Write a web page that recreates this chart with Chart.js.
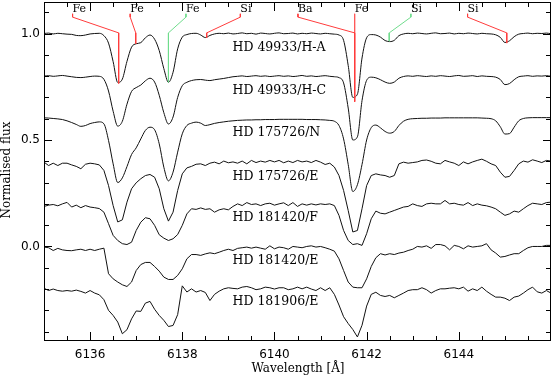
<!DOCTYPE html>
<html>
<head>
<meta charset="utf-8">
<script src="https://cdn.jsdelivr.net/npm/chart.js@4.4.1/dist/chart.umd.min.js"></script>
<style>
  body { margin: 0; background: #fff; }
  #wrap { width: 552px; height: 378px; }
</style>
</head>
<body>
<div id="wrap"><canvas id="chart" width="552" height="378"></canvas></div>
<script>
// wavelength grid (Angstrom)
var wave = [
  6135.0, 6135.1, 6135.2, 6135.3, 6135.4, 6135.5, 6135.6, 6135.7, 6135.8, 6135.9,
  6136.0, 6136.1, 6136.2, 6136.3, 6136.4, 6136.5, 6136.6, 6136.7, 6136.8, 6136.9,
  6137.0, 6137.1, 6137.2, 6137.3, 6137.4, 6137.5, 6137.6, 6137.7, 6137.8, 6137.9,
  6138.0, 6138.1, 6138.2, 6138.3, 6138.4, 6138.5, 6138.6, 6138.7, 6138.8, 6138.9,
  6139.0, 6139.1, 6139.2, 6139.3, 6139.4, 6139.5, 6139.6, 6139.7, 6139.8, 6139.9,
  6140.0, 6140.1, 6140.2, 6140.3, 6140.4, 6140.5, 6140.6, 6140.7, 6140.8, 6140.9,
  6141.0, 6141.1, 6141.2, 6141.3, 6141.4, 6141.5, 6141.6, 6141.7, 6141.8, 6141.9,
  6142.0, 6142.1, 6142.2, 6142.3, 6142.4, 6142.5, 6142.6, 6142.7, 6142.8, 6142.9,
  6143.0, 6143.1, 6143.2, 6143.3, 6143.4, 6143.5, 6143.6, 6143.7, 6143.8, 6143.9,
  6144.0, 6144.1, 6144.2, 6144.3, 6144.4, 6144.5, 6144.6, 6144.7, 6144.8, 6144.9,
  6145.0, 6145.1, 6145.2, 6145.3, 6145.4, 6145.5, 6145.6, 6145.7, 6145.8, 6145.9,
  6146.0
]

// normalised flux, each spectrum already shifted by its offset
var fluxHA = [
  1.000, 1.002, 0.998, 1.001, 0.999, 0.997, 0.996, 0.991, 0.990, 0.993, 0.998, 1.000, 1.001,
  0.990, 0.955, 0.868, 0.770, 0.786, 0.869, 0.936, 0.952, 0.957, 0.980, 0.993, 0.973,
  0.920, 0.835, 0.771, 0.818, 0.928, 0.983, 0.995, 1.000, 1.001, 0.993, 0.981, 0.991,
  0.998, 1.001, 0.999, 1.002, 0.998, 1.000, 1.003, 0.999, 1.001, 0.997, 1.002, 1.000, 0.998,
  1.001, 1.003, 0.999, 1.000, 1.002, 0.998, 1.001, 0.999, 1.002, 1.000, 0.998, 1.001, 0.999, 0.997,
  0.993, 0.968, 0.850, 0.700, 0.715, 0.885, 0.980, 0.995, 0.993, 0.983, 0.967, 0.962, 0.968, 0.990,
  0.998, 1.001, 0.999, 1.002, 1.000, 0.998, 1.001, 1.003, 0.999, 1.000,
  1.002, 0.998, 1.001, 0.999, 1.002, 1.000, 0.998, 1.001, 0.999, 0.998,
  0.994, 0.982, 0.958, 0.966, 0.985, 0.997,
  1.000, 1.002, 0.999, 1.001, 1.000, 1.002, 0.999
]
var fluxHC = [
  0.800, 0.802, 0.799, 0.801, 0.803, 0.800, 0.797, 0.794, 0.793, 0.795, 0.798, 0.800, 0.799,
  0.785, 0.730, 0.635, 0.565, 0.588, 0.668, 0.728, 0.746, 0.758, 0.778, 0.790, 0.772,
  0.710, 0.628, 0.575, 0.608, 0.700, 0.755, 0.771, 0.779, 0.783, 0.784, 0.781, 0.779,
  0.783, 0.786, 0.789, 0.793, 0.797, 0.799, 0.801, 0.798, 0.800, 0.802, 0.799, 0.801, 0.798,
  0.800, 0.802, 0.799, 0.801, 0.798, 0.800, 0.803, 0.799, 0.801, 0.798, 0.800, 0.802, 0.799, 0.797,
  0.793, 0.768, 0.650, 0.500, 0.515, 0.685, 0.780, 0.795, 0.792, 0.783, 0.772, 0.766, 0.772, 0.790,
  0.798, 0.801, 0.799, 0.802, 0.800, 0.798, 0.801, 0.799, 0.802, 0.800,
  0.798, 0.801, 0.803, 0.799, 0.800, 0.802, 0.798, 0.801, 0.799, 0.798,
  0.795, 0.784, 0.760, 0.765, 0.783, 0.797,
  0.800, 0.802, 0.799, 0.801, 0.800, 0.802, 0.799
]
var fluxN = [
  0.604, 0.603, 0.601, 0.599, 0.596, 0.590, 0.582, 0.573, 0.564, 0.568, 0.577, 0.582, 0.585,
  0.576, 0.498, 0.388, 0.300, 0.322, 0.375, 0.432, 0.463, 0.505, 0.545, 0.560, 0.548,
  0.482, 0.372, 0.308, 0.349, 0.443, 0.529, 0.568, 0.579, 0.584, 0.579, 0.568, 0.572,
  0.578, 0.582, 0.585, 0.588, 0.590, 0.592, 0.593, 0.594, 0.594, 0.595, 0.595, 0.596, 0.596,
  0.596, 0.597, 0.597, 0.597, 0.597, 0.597, 0.597, 0.596, 0.596, 0.596, 0.595, 0.594, 0.592, 0.588,
  0.568, 0.505, 0.385, 0.258, 0.290, 0.385, 0.500, 0.558, 0.570, 0.557, 0.540, 0.532, 0.540, 0.568,
  0.588, 0.597, 0.600, 0.601, 0.602, 0.602, 0.603, 0.603, 0.603, 0.604,
  0.604, 0.604, 0.604, 0.604, 0.604, 0.604, 0.604, 0.603, 0.602, 0.600,
  0.590, 0.562, 0.528, 0.530, 0.560, 0.590,
  0.601, 0.604, 0.605, 0.605, 0.605, 0.605, 0.605
]
var flux175726E = [
  0.396, 0.380, 0.391, 0.380, 0.391, 0.391, 0.383, 0.376, 0.365, 0.386, 0.391, 0.388, 0.383,
  0.357, 0.286, 0.192, 0.115, 0.125, 0.208, 0.271, 0.299, 0.318, 0.333, 0.338, 0.325,
  0.271, 0.177, 0.119, 0.161, 0.263, 0.341, 0.369, 0.376, 0.386, 0.388, 0.380, 0.391,
  0.396, 0.388, 0.401, 0.393, 0.397, 0.391, 0.401, 0.388, 0.404, 0.394, 0.401, 0.396, 0.404,
  0.397, 0.404, 0.393, 0.401, 0.394, 0.404, 0.397, 0.401, 0.394, 0.404, 0.396, 0.385, 0.391, 0.373,
  0.333, 0.263, 0.169, 0.068, 0.075, 0.177, 0.286, 0.333, 0.341, 0.336, 0.333, 0.325, 0.333, 0.388,
  0.396, 0.391, 0.394, 0.397, 0.404, 0.406, 0.400, 0.391, 0.388, 0.404,
  0.397, 0.391, 0.380, 0.397, 0.388, 0.397, 0.404, 0.410, 0.400, 0.388,
  0.380, 0.349, 0.325, 0.329, 0.357, 0.388,
  0.401, 0.396, 0.407, 0.401, 0.394, 0.404, 0.401
]
var flux181420F = [
  0.188, 0.194, 0.197, 0.191, 0.200, 0.207, 0.185, 0.194, 0.182, 0.192, 0.185, 0.182, 0.178,
  0.161, 0.107, 0.052, 0.028, 0.013, 0.009, 0.020, 0.075, 0.114, 0.135, 0.130, 0.099,
  0.055, 0.039, 0.028, 0.036, 0.056, 0.099, 0.153, 0.177, 0.174, 0.181, 0.174, 0.177,
  0.161, 0.172, 0.177, 0.172, 0.188, 0.200, 0.192, 0.206, 0.197, 0.200, 0.192, 0.200, 0.203,
  0.194, 0.200, 0.205, 0.192, 0.206, 0.188, 0.200, 0.194, 0.200, 0.195, 0.200, 0.197, 0.200, 0.192,
  0.146, 0.075, 0.028, 0.009, 0.013, 0.005, 0.060, 0.130, 0.166, 0.156, 0.153, 0.161, 0.169, 0.177,
  0.185, 0.188, 0.200, 0.192, 0.188, 0.200, 0.203, 0.200, 0.200, 0.216,
  0.200, 0.203, 0.197, 0.194, 0.206, 0.192, 0.200, 0.194, 0.191, 0.185,
  0.177, 0.161, 0.146, 0.153, 0.166, 0.161,
  0.177, 0.192, 0.203, 0.200, 0.197, 0.206, 0.208
]
var flux181420E = [
  -0.003, -0.006, -0.019, -0.009, -0.016, -0.019, -0.020, -0.016, -0.013, -0.019, -0.013, -0.019, -0.013,
  -0.008, -0.128, -0.152, -0.167, -0.180, -0.188, -0.167, -0.113, -0.085, -0.075, -0.075, -0.094,
  -0.116, -0.144, -0.155, -0.155, -0.136, -0.105, -0.058, -0.038, -0.038, -0.042, -0.035, -0.030,
  -0.034, -0.027, -0.019, -0.013, -0.019, -0.009, -0.006, -0.003, -0.008, -0.003, -0.008, -0.013, 0.003,
  -0.011, -0.003, -0.006, -0.013, 0.000, -0.003, -0.006, 0.000, 0.003, -0.003, 0.000, -0.006, -0.013, -0.022,
  -0.058, -0.113, -0.167, -0.191, -0.194, -0.194, -0.152, -0.094, -0.053, -0.034, -0.040, -0.034, -0.038, -0.031,
  -0.027, -0.019, -0.013, 0.000, -0.003, 0.003, -0.009, 0.009, 0.009, 0.003,
  -0.016, 0.005, 0.000, -0.011, 0.003, -0.003, 0.000, 0.003, 0.013, -0.016,
  -0.031, -0.050, -0.047, -0.040, -0.034, -0.034,
  -0.019, -0.006, 0.000, 0.000, 0.000, 0.005, 0.005
]
var flux181906E = [
  -0.196, -0.207, -0.200, -0.207, -0.210, -0.207, -0.210, -0.205, -0.211, -0.219, -0.207, -0.219, -0.227,
  -0.250, -0.300, -0.324, -0.355, -0.410, -0.391, -0.340, -0.303, -0.305, -0.266, -0.258, -0.295,
  -0.324, -0.347, -0.376, -0.371, -0.320, -0.185, -0.214, -0.199, -0.214, -0.207, -0.216, -0.254,
  -0.225, -0.210, -0.199, -0.194, -0.197, -0.199, -0.191, -0.188, -0.194, -0.203, -0.199, -0.191, -0.194,
  -0.200, -0.194, -0.194, -0.203, -0.199, -0.191, -0.199, -0.191, -0.200, -0.207, -0.194, -0.207, -0.194, -0.225,
  -0.275, -0.330, -0.362, -0.390, -0.425, -0.370, -0.280, -0.225, -0.215, -0.230, -0.235, -0.230, -0.241, -0.230,
  -0.219, -0.207, -0.203, -0.203, -0.194, -0.203, -0.219, -0.207, -0.199, -0.199,
  -0.196, -0.194, -0.199, -0.191, -0.210, -0.199, -0.207, -0.191, -0.210, -0.225,
  -0.238, -0.238, -0.243, -0.254, -0.238, -0.233,
  -0.219, -0.203, -0.191, -0.213, -0.219, -0.207, -0.219
]

var spectra = [fluxHA, fluxHC, fluxN, flux175726E, flux181420F, flux181420E, flux181906E]
var starNames = ['HD 49933/H-A', 'HD 49933/H-C', 'HD 175726/N', 'HD 175726/E',
                 'HD 181420/F', 'HD 181420/E', 'HD 181906/E']
var smoothSpectra = [true, true, true, false, false, false, false]
// label baseline of each spectrum name (flux units) and its wavelength
var starLabelFlux = [0.917, 0.717, 0.520, 0.313, 0.121, -0.081, -0.277]
var starLabelWave = 6139.09

// line identifications
var idNames = ['Fe', 'Fe', 'Fe', 'Si', 'Ba', 'Fe', 'Si', 'Si']
var idLabelWave = [6135.62, 6136.87, 6138.08, 6139.26, 6140.51, 6141.74, 6142.96, 6144.19]
var idLineWave = [6136.62, 6136.99, 6137.70, 6138.53, 6141.74, 6141.74, 6142.49, 6145.04]
var idLineBottom = [0.765, 0.952, 0.771, 0.980, 0.680, 0.680, 0.964, 0.955]
var idColors = ['#ff3c3c', '#ff3c3c', '#6fdc8c', '#ff3c3c', '#ff3c3c', '#ff5a5a', '#6fdc8c', '#ff3c3c']

var xMajorTicks = [6136, 6138, 6140, 6142, 6144]
var xTickLabels = ['6136', '6138', '6140', '6142', '6144']
var yMajorTicks = [0.0, 0.5, 1.0]
var yTickLabels = ['0.0', '0.5', '1.0']

var markTop = 1.0925, markKnee = 1.077, markLevel = 1.003

var datasets = []
for (var i = 0; i < idNames.length; i++) {
  datasets.push({
    data: [
      {x: idLabelWave[i], y: markTop},
      {x: idLabelWave[i], y: markKnee},
      {x: idLineWave[i], y: markLevel},
      {x: idLineWave[i], y: idLineBottom[i]}
    ],
    borderColor: idColors[i],
    borderWidth: 1,
    pointRadius: 0,
    order: 0
  })
}
spectra.forEach(function (s, j) {
  datasets.push({
    data: wave.map(function (w, k) { return {x: w, y: s[k]} }),
    borderColor: '#111',
    borderWidth: 1,
    pointRadius: 0,
    cubicInterpolationMode: smoothSpectra[j] ? 'monotone' : 'default',
    tension: 0,
    order: 1
  })
})

var decor = {
  id: 'decor',
  afterDraw: function (chart) {
    var c = chart.ctx, a = chart.chartArea
    var xs = chart.scales.x, ys = chart.scales.y
    c.save()
    c.strokeStyle = '#000'
    c.lineWidth = 1
    c.strokeRect(a.left + 0.5, a.top + 0.5, a.right - a.left - 1, a.bottom - a.top - 1)
    c.beginPath()
    for (var v = 6135.5; v < 6146; v += 0.5) {
      var px = Math.round(xs.getPixelForValue(v)) + 0.5
      var len = xMajorTicks.indexOf(v) >= 0 ? 9 : 5
      c.moveTo(px, a.bottom); c.lineTo(px, a.bottom - len)
      c.moveTo(px, a.top); c.lineTo(px, a.top + len)
    }
    for (var t = -4; t <= 11; t++) {
      var py = Math.round(ys.getPixelForValue(t / 10)) + 0.5
      var ylen = (t % 5 === 0) ? 8 : 5
      c.moveTo(a.left, py); c.lineTo(a.left + ylen, py)
      c.moveTo(a.right, py); c.lineTo(a.right - ylen, py)
    }
    c.stroke()

    c.fillStyle = '#000'
    // tick labels
    c.font = '12px "DejaVu Sans"'
    c.textAlign = 'center'
    c.textBaseline = 'middle'
    xMajorTicks.forEach(function (v, j) {
      c.fillText(xTickLabels[j], xs.getPixelForValue(v), 354.5)
    })
    c.textAlign = 'right'
    yMajorTicks.forEach(function (v, j) {
      c.fillText(yTickLabels[j], a.left - 4, ys.getPixelForValue(v))
    })

    // spectrum names
    c.font = '12.5px "DejaVu Serif"'
    c.textAlign = 'left'
    c.textBaseline = 'alphabetic'
    starNames.forEach(function (n, j) {
      c.fillText(n, xs.getPixelForValue(starLabelWave), ys.getPixelForValue(starLabelFlux[j]))
    })

    // line identifications
    c.font = '11px "DejaVu Serif"'
    idNames.forEach(function (n, j) {
      c.fillText(n, xs.getPixelForValue(idLabelWave[j]), ys.getPixelForValue(markTop) - 1.5)
    })

    // axis titles
    c.font = '12px "DejaVu Serif"'
    c.textAlign = 'center'
    c.textBaseline = 'middle'
    c.fillText('Wavelength [\u00c5]', (a.left + a.right) / 2 + 0.5, 369)
    c.translate(7, 170)
    c.rotate(-Math.PI / 2)
    c.fillText('Normalised flux', 0, 0)
    c.restore()
  }
}

new Chart(document.getElementById('chart'), {
  type: 'line',
  data: { datasets: datasets },
  options: {
    responsive: false,
    animation: false,
    layout: { padding: { top: 2, right: 1, left: 0, bottom: 0 } },
    plugins: { legend: { display: false }, tooltip: { enabled: false } },
    scales: {
      x: {
        type: 'linear',
        min: 6135,
        max: 6146,
        afterBuildTicks: function (s) { s.ticks = xMajorTicks.map(function (v) { return {value: v} }) },
        afterFit: function (s) { s.height = 37 },
        ticks: { display: false },
        grid: { display: false, drawTicks: false },
        border: { display: false }
      },
      y: {
        type: 'linear',
        min: -0.444,
        max: 1.148,
        afterBuildTicks: function (s) { s.ticks = yMajorTicks.map(function (v) { return {value: v} }) },
        afterFit: function (s) { s.width = 44 },
        ticks: { display: false },
        grid: { display: false, drawTicks: false },
        border: { display: false }
      }
    }
  },
  plugins: [decor]
})
</script>
</body>
</html>
